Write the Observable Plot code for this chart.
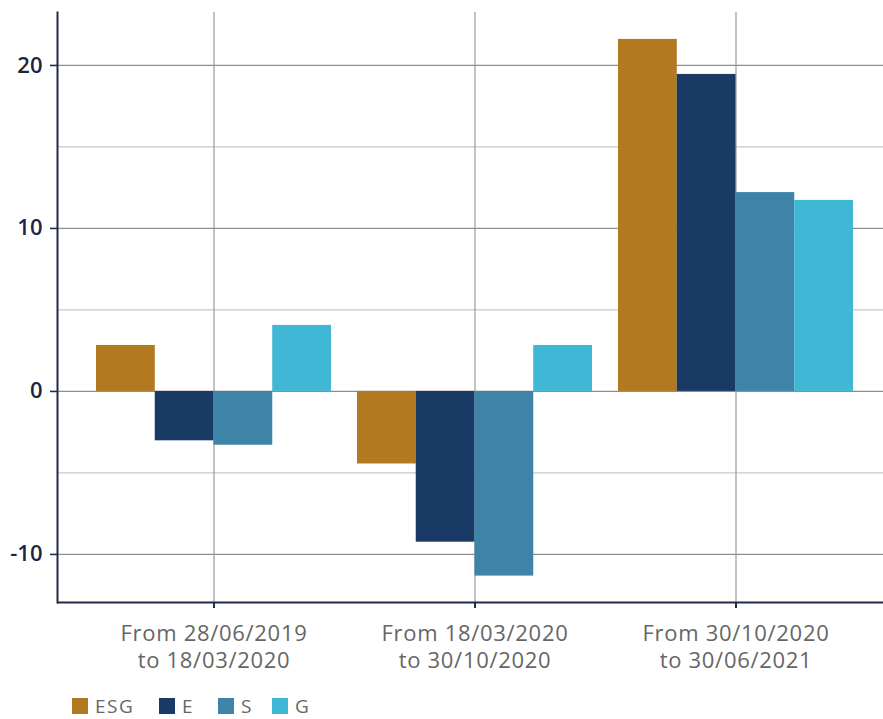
<!DOCTYPE html>
<html>
<head>
<meta charset="utf-8">
<script src="https://cdn.jsdelivr.net/npm/d3@7"></script>
<script src="https://cdn.jsdelivr.net/npm/@observablehq/plot@0.6"></script>
<style>
  html, body { margin: 0; padding: 0; background: #fff; overflow: hidden; }
  #chart svg { display: block; }
  #chart g[aria-label="x-axis tick label"] text { letter-spacing: 0.7px; }
  .legend { position: relative; height: 20px; margin-top: 11px;
            font-family: "Open Sans", sans-serif; font-size: 19px; color: #666; }
  .legend .item { position: absolute; top: 0; height: 20px; display: flex; align-items: center; line-height: 20px; letter-spacing: 1.5px; }
  .legend .sw { width: 16px; height: 16px; margin-right: 7px; flex: none; }
</style>
</head>
<body>
<div id="chart"></div>
<script>
const categories = ["From 28/06/2019\nto 18/03/2020", "From 18/03/2020\nto 30/10/2020", "From 30/10/2020\nto 30/06/2021"];
const series = ["ESG", "E", "S", "G"];
const esgValues = [2.82, -4.45, 21.6];
const eValues = [-3.03, -9.25, 19.45];
const sValues = [-3.3, -11.33, 12.2];
const gValues = [4.05, 2.82, 11.72];
const colors = ["#b27920", "#183a65", "#3e84a8", "#40b7d4"];
const majorTicks = [-10, 0, 10, 20];
const minorTicks = [-5, 5, 15];
const yDomain = [-12.95, 23.25];

const valuesBySeries = [esgValues, eValues, sValues, gValues];
const rows = [];
series.forEach((s, i) => categories.forEach((c, j) => rows.push({series: s, cat: c, value: valuesBySeries[i][j]})));

const W = 883, H = 685, ML = 57, MR = 0, MT = 12, MB = 83;
const pInner = 0.1, pOuter = 0.132, align = 0.564;
const step = (W - ML - MR) / (categories.length - pInner + 2 * pOuter);
const bw = step * (1 - pInner);
const q = bw / series.length;
const navy = "#232b4d";

const plot = Plot.plot({
  width: W, height: H,
  marginLeft: ML, marginRight: MR, marginTop: MT, marginBottom: MB,
  style: {fontFamily: "Open Sans, sans-serif", background: "white"},
  x: {domain: categories, paddingInner: pInner, paddingOuter: pOuter, align},
  y: {domain: yDomain},
  marks: [
    Plot.ruleY(minorTicks, {stroke: "#c8c8c8", strokeWidth: 1.2}),
    Plot.ruleY(majorTicks, {stroke: "#8e8e8e", strokeWidth: 1.2}),
    Plot.gridX({stroke: "#9a9a9a", strokeOpacity: 1, strokeWidth: 1.2}),
    ...series.map((s, i) => Plot.barY(rows.filter(r => r.series === s), {
      x: "cat", y: "value", fill: colors[i], insetLeft: i * q, insetRight: (series.length - 1 - i) * q
    })),
    Plot.ruleY([yDomain[0]], {stroke: navy, strokeWidth: 2}),
    Plot.frame({anchor: "left", stroke: navy, strokeWidth: 2}),
    Plot.axisY(majorTicks, {tickSize: 7, tickPadding: 8, fontSize: 22, fontWeight: 600,
      fill: "#1d2547", stroke: navy, strokeWidth: 1.6, tickFormat: d => String(d), label: null}),
    Plot.axisX({tickSize: 6, tickPadding: 13, fontSize: 22, fill: "#666", stroke: navy,
      strokeWidth: 2, lineHeight: 1.23, label: null})
  ]
});
document.getElementById("chart").appendChild(plot);

const legendLeft = [72, 159, 218, 272];
const legend = document.createElement("div");
legend.className = "legend";
series.forEach((s, i) => {
  const item = document.createElement("div");
  item.className = "item";
  item.style.left = legendLeft[i] + "px";
  const sw = document.createElement("div");
  sw.className = "sw";
  sw.style.background = colors[i];
  const lab = document.createElement("span");
  lab.textContent = s;
  item.appendChild(sw); item.appendChild(lab);
  legend.appendChild(item);
});
document.body.appendChild(legend);
</script>
</body>
</html>
